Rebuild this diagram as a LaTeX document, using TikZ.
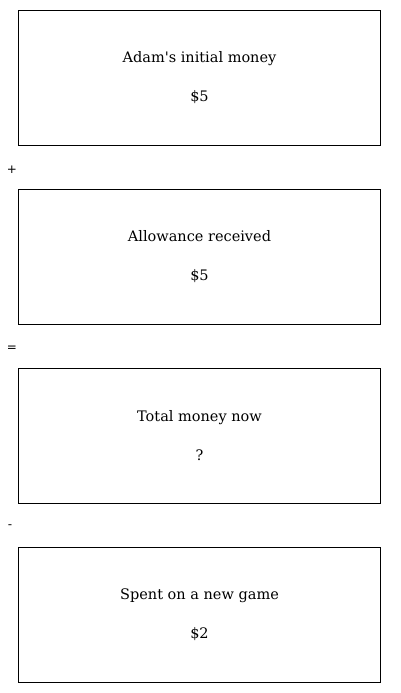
\documentclass[tikz,border=0pt]{standalone}
\usepackage{fontspec}
\setmainfont{DejaVu Serif}
\setsansfont{DejaVu Sans}
\usetikzlibrary{positioning}
\begin{document}
\begin{tikzpicture}[
    x=1pt,y=1pt,
    box/.style={rectangle,draw=black,line width=1pt,
                minimum width=362pt,minimum height=135pt,align=center,
                inner sep=0pt,font=\fontsize{14.5}{17}\selectfont},
    op/.style={inner sep=0pt,font=\sffamily\fontsize{12}{14}\selectfont},
    node distance=43pt,
  ]
    \useasboundingbox (0,0) rectangle (400,-693);
    \node[box] (init) at (199.5,-78) {Adam\textquotesingle s initial money\\[22pt]\$5};
    \node[box,below=of init] (allow) {Allowance received\\[22pt]\$5};
    \node[box,below=of allow] (total) {Total money now\\[22pt]?};
    \node[box,below=of total] (spent) {Spent on a new game\\[22pt]\$2};
    \node[op] (plus) at (12,-170) {+};
    \node[op] (equals) at (12,-349) {=};
    \node[op] (minus) at (10,-527) {-};
  \end{tikzpicture}
\end{document}
